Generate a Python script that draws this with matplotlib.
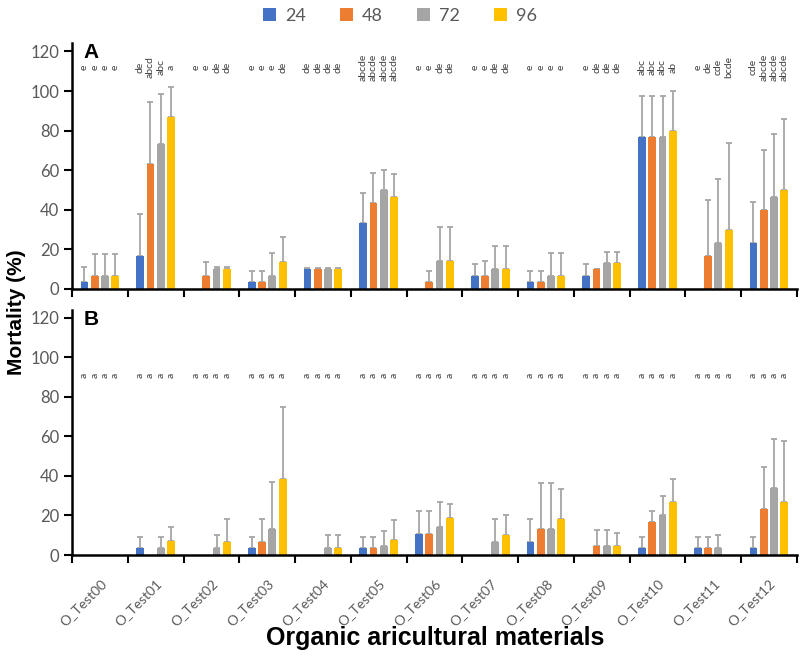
import matplotlib
matplotlib.use("Agg")
import matplotlib.pyplot as plt
import numpy as np
from matplotlib.patches import Patch

categories = ["O_Test00", "O_Test01", "O_Test02", "O_Test03", "O_Test04", "O_Test05",
              "O_Test06", "O_Test07", "O_Test08", "O_Test09", "O_Test10", "O_Test11", "O_Test12"]
series_names = ["24", "48", "72", "96"]
colors = ["#4472C4", "#ED7D31", "#A5A5A5", "#FFC000"]

# Panel A: mean mortality (%) and upper SD
A24 = [3.33, 16.67, 0, 3.33, 10, 33.33, 0, 6.67, 3.33, 6.67, 76.67, 0, 23.33]
A48 = [6.67, 63.33, 6.67, 3.33, 10, 43.33, 3.33, 6.67, 3.33, 10, 76.67, 16.67, 40]
A72 = [6.67, 73.33, 10, 6.67, 10, 50, 14, 10.33, 6.67, 13, 76.67, 23.33, 46.67]
A96 = [6.67, 86.67, 10, 13.67, 10, 46.67, 14, 10.33, 6.67, 13, 80, 30, 50]
A24_sd = [7.7, 21, 0, 5.6, 0.7, 15.2, 0, 6.1, 5.6, 5.8, 20.8, 0, 20.6]
A48_sd = [10.8, 31, 6.9, 5.6, 0.7, 15.4, 5.6, 7.4, 5.6, 0.3, 20.8, 28.4, 30]
A72_sd = [10.8, 25.3, 1, 11.5, 0.7, 9.9, 17.3, 11.3, 11.5, 5.9, 20.8, 32, 31.6]
A96_sd = [10.8, 15.3, 1, 12.5, 0.7, 11.5, 17.3, 11.3, 11.5, 5.9, 20, 43.5, 35.8]
A_letters = [
    ["e", "e", "e", "e"],
    ["de", "abcd", "abc", "a"],
    ["e", "e", "de", "de"],
    ["e", "e", "e", "de"],
    ["de", "de", "de", "de"],
    ["abcde", "abcde", "abcde", "abcde"],
    ["e", "e", "de", "de"],
    ["e", "e", "de", "de"],
    ["e", "e", "e", "e"],
    ["e", "de", "de", "de"],
    ["abc", "abc", "abc", "ab"],
    ["e", "de", "cde", "bcde"],
    ["cde", "abcde", "abcde", "abcde"],
]

# Panel B
B24 = [0, 3.33, 0, 3.33, 0, 3.33, 10.67, 0, 6.67, 0, 3.33, 3.33, 3.33]
B48 = [0, 0, 0, 6.67, 0, 3.33, 10.67, 0, 13, 4.67, 16.67, 3.33, 23.33]
B72 = [0, 3.33, 3.67, 13, 3.67, 4.67, 14, 6.67, 13, 4.67, 20, 3.67, 33.67]
B96 = [0, 7.33, 6.67, 38.67, 3.67, 7.67, 18.67, 10.33, 18, 4.33, 26.67, 0, 26.67]
B24_sd = [0, 5.7, 0, 5.7, 0, 5.7, 11.4, 0, 11.7, 0, 5.7, 5.7, 5.7]
B48_sd = [0, 0, 0, 11.5, 0, 5.7, 11.4, 0, 23.6, 8.2, 5.8, 5.7, 21]
B72_sd = [0, 5.7, 6.5, 23.8, 6.5, 7.7, 12.6, 11.7, 23.6, 8.2, 10.1, 6.5, 24.9]
B96_sd = [0, 7, 11.5, 36.2, 6.5, 9.8, 7.3, 10.1, 15.4, 6.9, 11.9, 0, 30.8]
B_letters = [["a", "a", "a", "a"] for _ in categories]

yticks = [0, 20, 40, 60, 80, 100, 120]

plt.rcParams["font.family"] = ["Lato", "DejaVu Sans"]

fig = plt.figure(figsize=(8, 6.59), dpi=100)
axA = fig.add_axes([0.09, 0.5615, 0.906, 0.3725])
axB = fig.add_axes([0.09, 0.1578, 0.906, 0.3718])

x = np.arange(len(categories))
offsets = (np.arange(4) - 1.5) * 0.185
width = 0.14


def draw(ax, vals, sds, letters, letter_y, panel, show_labels):
    for j in range(4):
        xs = x + offsets[j]
        v = np.array(vals[j], dtype=float)
        s = np.array(sds[j], dtype=float)
        ax.bar(xs, v, width, color=colors[j], zorder=2)
        m = s > 0
        ax.errorbar(xs[m], v[m], yerr=[np.zeros(m.sum()), s[m]], fmt="none",
                    ecolor="#A6A6A6", elinewidth=1.3, capsize=2.2, capthick=1.3, zorder=1)
        for i in range(len(categories)):
            ax.text(xs[i], letter_y, letters[i][j], rotation=90, ha="center", va="center",
                    fontsize=7.5, color="#404040")
    ax.set_xlim(-0.5, len(categories) - 0.5)
    ax.set_ylim(0, 124)
    ax.set_yticks(yticks)
    ax.tick_params(axis="y", direction="out", length=6, width=1.5, labelsize=12,
                   labelcolor="#595959", pad=3)
    ax.set_xticks(np.arange(-0.5, len(categories), 1))
    ax.set_xticklabels([])
    ax.tick_params(axis="x", which="major", direction="out", length=6, width=1.5)
    ax.set_xticks(x, minor=True)
    if show_labels:
        ax.set_xticklabels(categories, minor=True, rotation=45, ha="right",
                           rotation_mode="anchor", fontsize=10, color="#595959")
    ax.tick_params(axis="x", which="minor", length=0, pad=16)
    for sp in ["top", "right"]:
        ax.spines[sp].set_visible(False)
    for sp in ["left", "bottom"]:
        ax.spines[sp].set_linewidth(1.8)
    ax.text(0.016, 1.0, panel, transform=ax.transAxes, ha="left", va="top",
            fontsize=15, fontweight="bold", family=["Liberation Sans", "DejaVu Sans"])


draw(axA, [A24, A48, A72, A96], [A24_sd, A48_sd, A72_sd, A96_sd], A_letters, 112, "A", False)
draw(axB, [B24, B48, B72, B96], [B24_sd, B48_sd, B72_sd, B96_sd], B_letters, 91, "B", True)

handles = [Patch(facecolor=c) for c in colors]
fig.legend(handles, series_names, loc="center", bbox_to_anchor=(400 / 800, 1 - 16 / 659),
           ncol=4, frameon=False, handlelength=0.7, handleheight=0.7, handletextpad=0.5,
           columnspacing=1.9, fontsize=13, labelcolor="#595959")

fig.text(17 / 800, 1 - 312 / 659, "Mortality (%)", rotation=90, ha="center", va="center",
         fontsize=15, fontweight="bold", family=["Liberation Sans", "DejaVu Sans"])
fig.text(435 / 800, 1 - 638 / 659, "Organic aricultural materials", ha="center", va="center",
         fontsize=18, fontweight="bold", family=["Liberation Sans", "DejaVu Sans"])

fig.savefig("out.png", dpi=100)
